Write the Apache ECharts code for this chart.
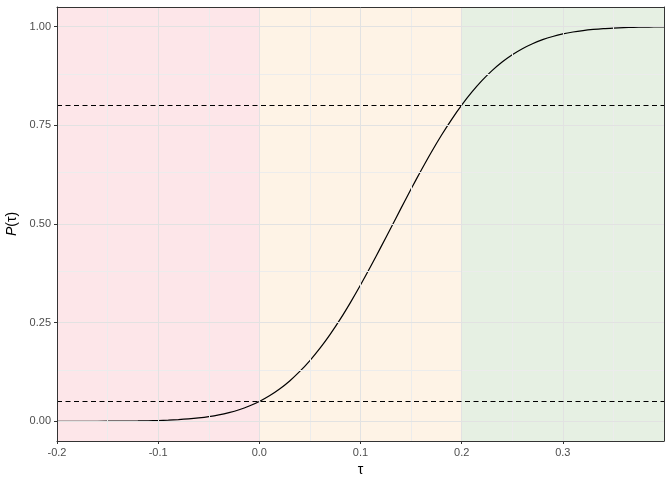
<!DOCTYPE html>
<html>
<head>
<meta charset="utf-8">
<script src="https://cdn.jsdelivr.net/npm/echarts@6/dist/echarts.min.js"></script>
<style>html,body{margin:0;padding:0;background:#fff}#c{width:672px;height:480px}</style>
</head>
<body>
<div id="c"></div>
<script>
// ---- data ----
var tau = [-0.20,-0.18,-0.16,-0.14,-0.12,-0.11,-0.10,-0.09,-0.08,-0.07,-0.06,-0.05,-0.04,-0.03,-0.02,-0.01,
  0.00,0.01,0.02,0.03,0.04,0.05,0.06,0.07,0.08,0.09,0.10,0.11,0.12,0.13,0.14,0.15,0.16,0.17,0.18,0.19,
  0.20,0.21,0.22,0.23,0.24,0.25,0.26,0.27,0.28,0.29,0.30,0.31,0.32,0.33,0.34,0.35,0.36,0.37,0.38,0.39,0.40];
var prob = [0.0000,0.0001,0.0001,0.0004,0.0009,0.0013,0.0020,0.0029,0.0042,0.0060,0.0085,0.0118,0.0162,0.0220,0.0293,0.0387,
  0.0503,0.0646,0.0818,0.1022,0.1263,0.1539,0.1852,0.2203,0.2588,0.3008,0.3453,0.3921,0.4407,0.4900,0.5396,0.5886,0.6361,0.6818,0.7248,0.7646,
  0.8012,0.8340,0.8632,0.8886,0.9104,0.9289,0.9443,0.9570,0.9672,0.9753,0.9817,0.9866,0.9903,0.9931,0.9952,0.9966,0.9977,0.9985,0.9990,0.9993,0.9996];
var thresholds = [0.05, 0.80];
var bandFrom = [-0.2, 0.0, 0.2];
var bandTo   = [0.0, 0.2, 0.4];
var bandColors = ['rgba(238,47,72,0.12)','rgba(247,155,47,0.12)','rgba(47,130,22,0.12)'];
var xTicks = [-0.2,-0.1,0.0,0.1,0.2,0.3];
var xMinor = [-0.15,-0.05,0.05,0.15,0.25,0.35];
var yTicks = [0,0.25,0.5,0.75,1.0];
var yMinor = [0.125,0.375,0.625,0.875];

var chart = echarts.init(document.getElementById('c'), null, {renderer:'canvas'});
var FONT = '"Liberation Sans", Arial, sans-serif';

function gridLines(vals, dim, color){
  return vals.map(function(v){
    var o = {lineStyle:{color:color,width:1,type:'solid'}};
    o[dim] = v;
    return o;
  });
}
var gl = [].concat(
  gridLines(xMinor,'xAxis','#ececec'),
  gridLines(yMinor,'yAxis','#ececec'),
  gridLines(xTicks,'xAxis','#e2e2e2'),
  gridLines(yTicks,'yAxis','#e2e2e2')
);
var bands = bandFrom.map(function(f,i){
  return [{xAxis:f, itemStyle:{color:bandColors[i]}},{xAxis:bandTo[i]}];
});

var option = {
  animation:false,
  backgroundColor:'#fff',
  grid:{left:57,right:8,top:7,bottom:39,containLabel:false,outerBoundsMode:'none'},
  xAxis:[{
    type:'value', min:-0.2, max:0.4, interval:0.1, z:10,
    name:'τ', nameLocation:'middle', nameGap:19,
    nameTextStyle:{fontFamily:FONT,fontSize:14,color:'#000'},
    axisLine:{show:true,onZero:false,lineStyle:{color:'#333',width:1}},
    axisTick:{show:true,length:3,customValues:xTicks,lineStyle:{color:'#333'}},
    axisLabel:{customValues:xTicks,margin:6,fontFamily:FONT,fontSize:11,color:'#4d4d4d',
      formatter:function(v){return v.toFixed(1);}},
    splitLine:{show:false}
  },{
    type:'value', position:'top', min:-0.2, max:0.4, z:10,
    axisLine:{show:true,onZero:false,lineStyle:{color:'#333',width:1}},
    axisTick:{show:false}, axisLabel:{show:false}, splitLine:{show:false}
  }],
  yAxis:[{
    type:'value', min:-0.05, max:1.05, z:10,
    name:'{i|P}(τ)', nameLocation:'middle', nameGap:37, nameRotate:90,
    nameTextStyle:{fontFamily:FONT,fontSize:14,color:'#000',
      rich:{i:{fontFamily:FONT,fontSize:14,fontStyle:'italic',color:'#000'}}},
    axisLine:{show:true,onZero:false,lineStyle:{color:'#333',width:1}},
    axisTick:{show:true,length:3,customValues:yTicks,lineStyle:{color:'#333'}},
    axisLabel:{customValues:yTicks,margin:6,fontFamily:FONT,fontSize:11,color:'#4d4d4d',
      formatter:function(v){return v.toFixed(2);}},
    splitLine:{show:false}
  },{
    type:'value', position:'right', min:-0.05, max:1.05, z:10,
    axisLine:{show:true,onZero:false,lineStyle:{color:'#333',width:1}},
    axisTick:{show:false}, axisLabel:{show:false}, splitLine:{show:false}
  }],
  series:[{
    type:'line', z:1, data:[], silent:true,
    markLine:{silent:true,symbol:'none',label:{show:false},animation:false,data:gl}
  },{
    type:'line', z:2, data:[], silent:true,
    markArea:{silent:true,animation:false,data:bands}
  },{
    type:'line', z:3, data:[], silent:true,
    markLine:{silent:true,symbol:'none',label:{show:false},animation:false,
      lineStyle:{color:'#000',width:1.2,type:[5,3.5]},
      data: thresholds.map(function(v){return {yAxis:v};})}
  },{
    type:'line', z:4, symbol:'none', showSymbol:false, silent:true, smooth:0.3, clip:false,
    sampling:null,
    data: tau.map(function(t,i){return [t,prob[i]];}),
    lineStyle:{color:'#000',width:1.2}
  }]
};
chart.setOption(option);
</script>
</body>
</html>
